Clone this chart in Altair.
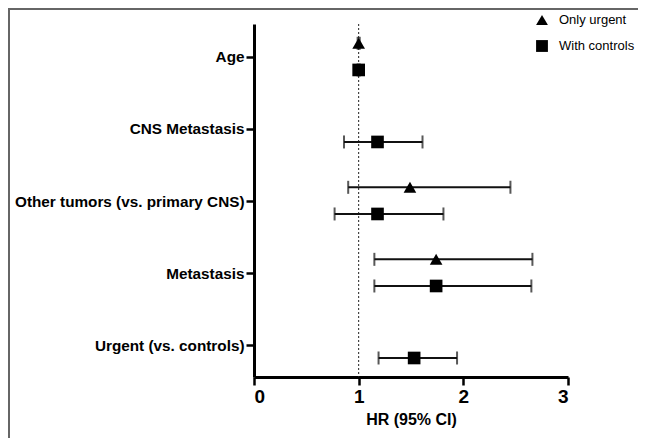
import json
import altair as alt
import pandas as pd

categories = ["Age", "CNS Metastasis", "Other tumors (vs. primary CNS)", "Metastasis", "Urgent (vs. controls)"]
series_names = ["Only urgent", "With controls"]

urgent_hr = [1.00, None, 1.49, 1.74, None]
urgent_lo = [0.99, None, 0.90, 1.15, None]
urgent_hi = [1.01, None, 2.45, 2.66, None]

controls_hr = [1.00, 1.18, 1.18, 1.74, 1.53]
controls_lo = [0.99, 0.86, 0.77, 1.15, 1.19]
controls_hi = [1.01, 1.61, 1.81, 2.65, 1.94]

x_ticks = [0, 1, 2, 3]

offsets = {"Only urgent": -0.19, "With controls": 0.18}
rows = []
for name, hr, lo, hi in [("Only urgent", urgent_hr, urgent_lo, urgent_hi),
                         ("With controls", controls_hr, controls_lo, controls_hi)]:
    for i, cat in enumerate(categories):
        if hr[i] is None:
            continue
        rows.append({"category": cat, "series": name, "hr": hr[i], "lo": lo[i], "hi": hi[i],
                     "ypos": i + offsets[name]})
df = pd.DataFrame(rows)

FONT = "Liberation Sans"
label_expr = json.dumps(categories) + "[datum.value]"

yscale = alt.Scale(domain=[-0.458, 4.444], reverse=True, nice=False, zero=False)
xscale = alt.Scale(domain=[0, 3], nice=False)

base = alt.Chart(df)

y_enc = alt.Y("ypos:Q", scale=yscale,
              axis=alt.Axis(values=list(range(len(categories))), labelExpr=label_expr, title=None,
                            grid=False, domainWidth=3, domainColor="black", tickWidth=2.5,
                            tickColor="black", tickSize=8, labelFontSize=15.3, labelFontWeight="bold",
                            labelFont=FONT, labelColor="black", labelPadding=2, labelLimit=0))

ref = alt.Chart(pd.DataFrame({"v": [1]})).mark_rule(
    color="#222", strokeWidth=1, strokeDash=[2, 2]).encode(x=alt.X("v:Q", scale=xscale))

bars = base.mark_rule(color="#111", strokeWidth=2).encode(
    x=alt.X("lo:Q", scale=xscale,
            axis=alt.Axis(values=x_ticks, format="d", title="HR (95% CI)", grid=False,
                          domainWidth=3, domainColor="black", tickWidth=2.5, tickColor="black",
                          tickSize=8, labelFontSize=19, labelFontWeight="bold", labelFont=FONT,
                          labelColor="black", labelPadding=2, titleFontSize=16,
                          titleFontWeight="bold", titleFont=FONT, titleColor="black",
                          titlePadding=5)),
    x2="hi:Q",
    y=y_enc,
)

caps_lo = base.mark_tick(color="#111", thickness=2, size=13, orient="vertical").encode(
    x=alt.X("lo:Q", scale=xscale), y=alt.Y("ypos:Q", scale=yscale))
caps_hi = base.mark_tick(color="#111", thickness=2, size=13, orient="vertical").encode(
    x=alt.X("hi:Q", scale=xscale), y=alt.Y("ypos:Q", scale=yscale))

points = base.mark_point(filled=True, color="black", opacity=1, size=160).encode(
    x=alt.X("hr:Q", scale=xscale),
    y=alt.Y("ypos:Q", scale=yscale),
    shape=alt.Shape("series:N",
                    scale=alt.Scale(domain=series_names, range=["triangle-up", "square"]),
                    legend=alt.Legend(title=None, orient="none", legendX=281, legendY=-11,
                                      labelFont=FONT, labelFontSize=13, labelColor="black",
                                      symbolSize=140, symbolFillColor="black",
                                      symbolStrokeColor="black", labelOffset=10,
                                      rowPadding=8, padding=0)),
)

frame_top = alt.Chart(pd.DataFrame({"a": [0]})).mark_rule(color="#666", strokeWidth=2).encode(
    x=alt.value(-246), x2=alt.value(400), y=alt.value(-15))
frame_left = alt.Chart(pd.DataFrame({"a": [0]})).mark_rule(color="#666", strokeWidth=2).encode(
    x=alt.value(-245), y=alt.value(-16), y2=alt.value(430))

chart = alt.layer(frame_top, frame_left, ref, bars, caps_lo, caps_hi, points).properties(
    width=314, height=353,
    autosize=alt.AutoSizeParams(type="none"),
    padding={"left": 246, "top": 16, "right": 70, "bottom": 61},
).configure(font=FONT).configure_view(stroke=None)

chart.save("out.html", embed_options={"renderer": "svg", "actions": False})
